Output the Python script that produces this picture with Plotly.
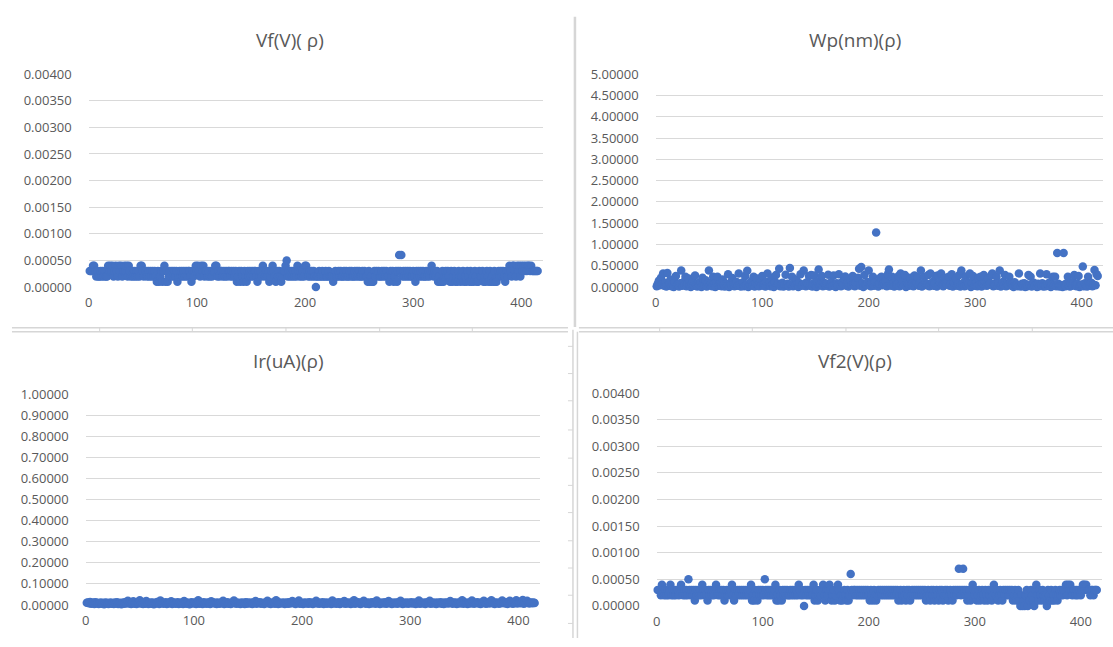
import plotly.graph_objects as go

# ---------------- data ----------------
# Vf(V)(rho) in units of 1e-4 V, sample index 1..n
vf_e4 = [
    3,3,3,4,4,3,2,3,2,2,3,2,3,2,3,2,2,4,3,4,
    3,4,2,3,4,3,2,4,3,4,2,3,4,3,4,2,4,3,2,3,
    2,3,2,3,2,3,2,4,4,3,2,3,3,2,3,2,3,2,3,2,
    3,2,1,3,1,2,3,1,3,4,1,3,1,2,3,2,3,2,3,2,
    3,1,2,3,2,3,2,3,2,3,2,3,3,2,1,3,2,3,4,3,
    4,3,2,4,3,4,2,3,3,2,3,2,3,2,3,3,4,4,2,3,
    2,3,3,2,3,2,3,2,3,3,2,3,2,3,2,3,1,2,3,1,
    3,2,1,3,2,1,3,2,3,2,3,2,3,3,2,1,3,2,3,2,
    4,3,2,3,2,3,1,2,3,4,3,2,1,3,2,3,2,1,2,3,
    3,4,5,2,3,2,3,2,3,2,3,2,4,3,2,3,2,3,2,4,
    4,3,2,3,2,3,2,3,2,0,2,2,3,2,2,3,2,2,3,2,
    2,3,2,2,2,1,2,3,2,2,3,2,3,2,2,3,2,3,2,2,
    3,2,3,2,2,3,2,3,2,3,2,2,3,2,3,2,2,1,3,1,
    2,1,1,3,2,3,2,3,2,2,3,2,3,2,3,2,2,1,3,2,
    3,1,2,3,1,3,6,3,6,2,3,2,3,2,3,2,3,2,2,3,
    2,1,3,2,3,2,3,2,3,2,2,3,2,3,2,3,4,3,2,3,
    2,3,1,2,1,1,3,1,2,3,2,3,2,1,3,1,2,3,1,2,
    1,3,2,1,2,3,1,2,1,3,2,1,3,1,2,1,3,2,1,1,
    3,2,2,3,1,2,1,3,2,1,3,1,2,1,3,1,1,2,3,2,
    3,2,3,2,1,3,2,3,4,3,2,4,4,3,2,4,3,4,2,4,
    3,4,3,4,3,4,4,3,4,3,3,3,3,3,3,
]

# Wp(nm)(rho) in units of 0.01 nm
wp_e2 = [
    2,8,15,4,22,6,32,3,10,1,33,5,9,18,2,7,0,12,26,4,
    6,1,9,39,3,11,5,24,2,8,20,4,0,7,13,3,27,5,1,9,
    4,12,0,22,6,3,16,1,8,39,5,10,2,24,7,0,11,24,3,6,
    9,2,18,5,1,7,3,30,0,10,4,21,6,2,8,12,3,32,5,1,
    7,11,2,26,4,38,0,9,5,14,3,24,1,8,20,6,2,10,4,26,
    3,7,1,12,32,5,9,2,22,6,0,11,28,4,8,43,2,6,10,1,
    5,29,3,8,1,45,6,24,2,10,4,18,7,0,9,30,3,5,39,8,
    2,11,6,26,3,28,1,9,27,5,0,12,41,4,7,26,2,10,6,3,
    8,29,1,5,12,3,27,6,0,9,4,30,7,2,11,5,20,25,3,9,
    1,6,14,4,26,8,2,10,5,22,43,3,47,9,0,28,7,4,12,39,
    6,2,9,24,3,11,128,5,1,8,22,24,4,10,6,14,2,30,41,7,
    3,24,9,1,20,5,8,26,2,32,6,12,4,28,0,10,7,3,22,5,
    9,2,27,6,11,23,3,8,39,1,5,24,10,4,7,28,2,32,6,12,
    3,8,26,1,27,5,10,32,4,2,22,9,6,13,24,3,7,30,1,11,
    5,20,3,8,28,1,39,6,10,2,25,4,12,7,32,0,9,26,3,6,
    10,2,22,5,24,1,8,28,4,11,3,20,6,9,27,32,2,7,5,24,
    3,9,39,1,6,12,4,28,2,8,5,24,10,3,7,0,11,4,6,2,
    32,5,1,8,3,9,0,6,2,28,4,24,1,7,10,3,5,0,8,2,
    32,4,9,1,5,2,30,7,3,11,0,6,24,4,24,2,80,8,1,5,
    3,0,80,6,2,9,24,4,1,7,3,12,28,5,2,8,26,0,4,6,
    48,2,9,5,1,24,7,3,10,2,6,40,4,30,26,
]

# Ir(uA)(rho) in units of 0.001 uA
ir_e3 = [
    10,12,8,14,6,9,11,5,13,7,10,4,8,12,6,9,3,11,7,10,
    5,8,12,6,9,4,11,7,13,5,8,10,3,9,12,6,14,8,20,7,
    9,5,11,18,6,10,4,12,8,22,7,9,5,13,6,19,10,4,8,11,
    6,12,3,9,7,14,10,5,21,8,11,6,9,13,4,10,7,12,18,5,
    9,11,6,8,13,4,10,7,12,5,19,9,6,11,8,3,10,13,7,9,
    12,5,8,22,6,11,9,4,13,7,10,6,12,8,5,18,9,11,7,10,
    4,12,8,6,11,9,20,5,10,7,13,6,9,4,12,8,21,10,6,11,
    7,9,5,12,8,10,4,13,6,11,9,7,12,5,10,8,19,6,11,9,
    13,6,10,8,4,12,9,20,7,11,5,10,8,13,6,22,9,4,11,7,
    10,8,12,5,9,11,6,13,7,10,19,8,12,5,9,11,21,6,10,8,
    4,12,9,7,11,6,13,8,10,5,12,9,20,7,11,6,10,8,13,5,
    9,11,6,10,8,12,4,21,9,7,11,6,10,13,5,9,12,8,19,6,
    10,7,12,9,5,11,8,22,6,10,9,13,7,4,11,8,20,10,6,12,
    9,5,11,7,13,8,10,6,21,9,12,4,10,8,11,7,13,6,9,19,
    8,11,5,10,7,12,9,6,13,8,20,10,4,11,7,9,12,6,10,8,
    13,7,9,11,5,10,8,21,6,12,9,7,11,4,10,13,8,20,6,9,
    11,7,10,5,12,8,9,13,6,10,4,11,8,12,7,9,19,10,6,11,
    8,12,5,9,11,7,10,22,6,13,8,10,4,12,9,7,21,11,6,10,
    9,13,7,10,5,12,8,20,11,6,9,13,7,10,22,8,12,5,11,9,
    10,6,12,8,21,9,11,7,13,5,10,20,8,12,6,11,9,22,7,10,
    12,8,10,23,6,11,9,20,13,7,10,12,8,11,9,
]

# Vf2(V)(rho) in units of 1e-4 V
vf2_e4 = [
    3,3,3,2,4,3,2,3,2,3,2,3,4,2,3,2,3,2,3,3,
    2,3,4,3,2,3,2,3,2,5,3,2,3,2,3,1,3,2,3,2,
    3,2,4,3,2,3,2,1,3,2,3,2,3,2,3,4,3,2,3,2,
    3,2,3,1,2,3,2,3,2,3,4,2,1,3,2,3,2,3,2,3,
    2,3,2,3,2,3,2,3,4,1,2,1,3,2,1,3,2,3,2,3,
    2,5,3,2,3,2,3,2,3,2,3,4,1,2,1,3,2,1,3,2,
    3,2,3,2,2,3,2,3,2,3,2,3,2,4,3,2,3,2,0,3,
    2,3,2,3,2,3,2,4,1,2,3,1,2,3,2,3,4,2,1,3,
    2,3,4,3,1,2,3,1,2,3,4,3,1,2,1,2,3,2,1,3,
    1,2,6,3,2,3,3,2,3,2,3,2,3,2,3,2,3,2,3,2,
    1,3,2,1,3,2,1,2,3,2,3,2,3,2,3,2,3,2,3,2,
    3,2,3,2,3,2,3,1,2,3,1,2,3,2,1,3,2,3,1,2,
    3,2,3,2,3,2,3,2,3,2,3,2,3,1,2,3,2,1,3,2,
    3,1,2,3,2,1,3,2,3,1,2,3,2,3,1,2,3,2,1,3,
    2,3,2,3,7,3,2,3,7,3,2,3,1,2,3,1,2,4,3,2,
    3,1,2,3,1,2,3,2,1,3,2,1,3,2,3,1,2,4,3,2,
    3,1,2,3,2,1,3,2,3,2,3,2,3,2,3,1,2,3,1,2,
    3,1,0,2,0,1,0,2,3,0,2,1,3,2,1,0,3,4,2,1,
    3,2,1,3,2,1,2,0,3,2,1,3,1,2,1,3,2,1,2,3,
    2,3,2,3,3,4,2,4,3,4,3,2,3,3,2,3,2,3,3,2,
    3,4,4,3,4,3,3,3,2,3,3,2,3,3,3,
]

titles = ["Vf(V)( \u03c1)", "Wp(nm)(\u03c1)", "Ir(uA)(\u03c1)", "Vf2(V)(\u03c1)"]
x_ticks = [0, 100, 200, 300, 400]

# unit conversions to the plotted units
vf = [v * 1e-4 for v in vf_e4]
wp = [v * 1e-2 for v in wp_e2]
ir = [v * 1e-3 for v in ir_e3]
vf2 = [v * 1e-4 for v in vf2_e4]

# ---------------- layout helpers ----------------
W, H = 1113, 647
def PX(x):
    return x / W
def PY(y):
    return 1 - y / H

BLUE = "#4472C4"
GRID = "#D9D9D9"
TXT = "#595959"
FONT = "Open Sans"
SEP = "#D6D6D6"

# panel geometry in pixels
panels = [
    dict(x0=85, x1=541, yb=286, yt=67, yr=[0, 0.004], dt=0.0005, tx=287, ty=32),
    dict(x0=654, x1=1103, yb=286, yt=67, yr=[0, 5.0], dt=0.5, tx=854, ty=32),
    dict(x0=82, x1=538, yb=613, yt=396, yr=[0, 1.0], dt=0.1, tx=286, ty=362),
    dict(x0=655, x1=1102, yb=614, yt=395, yr=[0, 0.004], dt=0.0005, tx=854, ty=362),
]
series = [vf, wp, ir, vf2]

fig = go.Figure()
layout = dict(
    width=W, height=H,
    margin=dict(l=0, r=0, t=0, b=0),
    paper_bgcolor="white", plot_bgcolor="white",
    showlegend=False,
    font=dict(family=FONT, color=TXT),
)
annotations = []
for i, (p, ys) in enumerate(zip(panels, series)):
    k = "" if i == 0 else str(i + 1)
    xs = list(range(1, len(ys) + 1))
    fig.add_trace(go.Scatter(
        x=xs, y=ys, mode="markers",
        marker=dict(color=BLUE, size=8.5, line=dict(width=0)),
        xaxis="x" + k, yaxis="y" + k, cliponaxis=False,
        hoverinfo="skip",
    ))
    layout["xaxis" + k] = dict(
        domain=[PX(p["x0"]), PX(p["x1"])], range=[0, 420],
        anchor="y" + k, tickmode="array", tickvals=x_ticks,
        showgrid=False, zeroline=False, showline=False, ticks="",
        tickfont=dict(size=13, color=TXT, family=FONT),
        ticklabelstandoff=6, fixedrange=True,
    )
    layout["yaxis" + k] = dict(
        domain=[PY(p["yb"]), PY(p["yt"])], range=p["yr"],
        anchor="x" + k, dtick=p["dt"], tick0=0, tickformat=".5f",
        showgrid=True, gridcolor=GRID, gridwidth=1,
        zeroline=False, showline=False, ticks="",
        tickfont=dict(size=13, color=TXT, family=FONT),
        ticklabelstandoff=16, fixedrange=True,
    )
    annotations.append(dict(
        text=titles[i], x=PX(p["tx"]), y=PY(p["ty"]),
        xref="paper", yref="paper", xanchor="center", yanchor="middle",
        showarrow=False, font=dict(size=19, color=TXT, family=FONT),
    ))

# spreadsheet separator lines between the charts
shapes = []
def line(x0, y0, x1, y1, w=1.5, c=SEP):
    shapes.append(dict(type="line", xref="paper", yref="paper",
                       x0=PX(x0), y0=PY(y0), x1=PX(x1), y1=PY(y1),
                       line=dict(color=c, width=w)))

line(573, 8, 573, 327, w=2.5)
line(8, 328, 566, 328)
line(8, 332, 566, 332)
line(577, 328, W, 328)
line(577, 332, W, 332)
line(571, 330, 571, H)
line(575.5, 332, 575.5, H)
for cx in [96, 189, 283, 377, 470, 658, 751, 845, 938, 1032]:
    line(cx, 328, cx, 332, w=1)
for ry in [347, 375, 403, 433, 462, 490, 518, 547, 575, 603, 632]:
    line(566, ry, 571, ry, w=1)

layout["annotations"] = annotations
layout["shapes"] = shapes
fig.update_layout(**layout)
fig.write_html(
    "out.html",
    config={"displayModeBar": False, "staticPlot": True},
    post_script="document.body.style.margin='0px';document.body.style.overflow='hidden';",
)
